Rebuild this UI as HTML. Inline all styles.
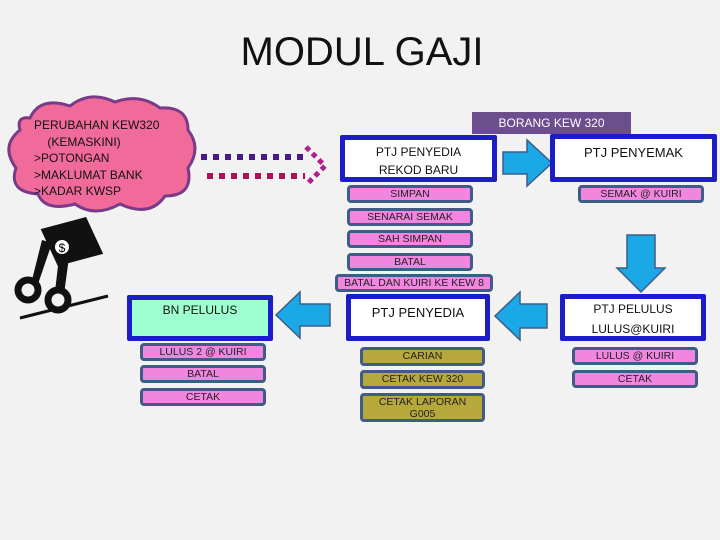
<!DOCTYPE html>
<html><head><style>
body{margin:0;width:720px;height:540px;background:#f2f2f2;position:relative;overflow:hidden;font-family:"Liberation Sans",sans-serif}
.a{position:absolute;box-sizing:border-box;text-align:center}
.t{left:0;width:724px;top:30px;font-size:40px;color:#111}
.bx{border:5px solid #1c1cc8;background:#fff;font-size:12px;color:#111;border-radius:2px}
.p{background:#f285e0;border:3px solid #3e5c86;border-radius:4px;font-size:10.5px;color:#222;line-height:12px}
.o{background:#b7a83c;border:3px solid #3e5c86;border-radius:4px;font-size:10.5px;color:#222;line-height:12px}
</style></head><body>
<div class="a t">MODUL GAJI</div>
<svg class="a" style="left:0;top:0" width="720" height="540">
<path d="M30,118 Q40,96 70,106 Q90,90 115,102 Q140,93 160,108 Q188,106 188,130 Q202,148 188,168 Q194,196 165,196 Q150,218 120,204 Q95,218 75,204 Q45,212 38,194 Q8,192 16,168 Q0,146 20,130 Q16,116 30,118Z" fill="#f06a9a" stroke="#7a3a8a" stroke-width="3"/>
<line x1="201" y1="157" x2="305" y2="157" stroke="#4a1a8a" stroke-width="6" stroke-dasharray="6,6"/>
<line x1="207" y1="176" x2="305" y2="176" stroke="#b0105a" stroke-width="6" stroke-dasharray="6,6"/>
<path d="M306,147 L325,166 L306,185" fill="none" stroke="#b0208a" stroke-width="5" stroke-dasharray="5,4"/>
<polygon points="503,152 527,152 527,140 552,163 527,186 527,174 503,174" fill="#1ba8e6" stroke="#3e5c86" stroke-width="1.5"/>
<polygon points="627,235 655,235 655,268 665,268 641,292 617,268 627,268" fill="#1ba8e6" stroke="#3e5c86" stroke-width="1.5"/>
<polygon points="330,304 300,304 300,292 276,315 300,338 300,326 330,326" fill="#1ba8e6" stroke="#3e5c86" stroke-width="1.5"/>
<polygon points="547,304 520,304 520,292 495,316 520,340 520,328 547,328" fill="#1ba8e6" stroke="#3e5c86" stroke-width="1.5"/>
<g fill="#111">
<polygon points="45,222 92,222 99,262 52,262" transform="rotate(-15 70 242)"/>
<circle cx="28" cy="290" r="10" fill="none" stroke="#111" stroke-width="7"/>
<circle cx="58" cy="300" r="10" fill="none" stroke="#111" stroke-width="7"/>
<polygon points="32,280 42,240 52,243 38,284"/>
<polygon points="55,292 60,248 70,250 64,294"/>
<line x1="20" y1="318" x2="108" y2="296" stroke="#111" stroke-width="3"/>
</g>
<circle cx="62" cy="247" r="8" fill="#fff" stroke="#111" stroke-width="2"/>
<text x="62" y="252" font-size="12" text-anchor="middle" font-family="Liberation Sans">$</text>
</svg>
<div class="a" style="left:34px;top:117px;width:160px;text-align:left;font-size:12px;line-height:16.5px;color:#111">PERUBAHAN KEW320<br>&nbsp;&nbsp;&nbsp;&nbsp;(KEMASKINI)<br>&gt;POTONGAN<br>&gt;MAKLUMAT BANK<br>&gt;KADAR KWSP</div>
<div class="a" style="left:472px;top:112px;width:159px;height:22px;background:#6c4e8e;color:#fff;font-size:12px;line-height:22px">BORANG KEW 320</div>
<div class="a bx" style="left:340px;top:135px;width:157px;height:47px;line-height:18px;padding-top:3px">PTJ PENYEDIA<br>REKOD BARU</div>
<div class="a bx" style="left:550px;top:134px;width:167px;height:48px;font-size:13px;padding-top:6px">PTJ PENYEMAK</div>
<div class="a p" style="left:347px;top:185px;width:126px;height:18px">SIMPAN</div>
<div class="a p" style="left:578px;top:185px;width:126px;height:18px">SEMAK @ KUIRI</div>
<div class="a p" style="left:347px;top:208px;width:126px;height:18px">SENARAI SEMAK</div>
<div class="a p" style="left:347px;top:230px;width:126px;height:18px">SAH SIMPAN</div>
<div class="a p" style="left:347px;top:253px;width:126px;height:18px">BATAL</div>
<div class="a p" style="left:335px;top:274px;width:158px;height:18px">BATAL DAN KUIRI KE KEW 8</div>
<div class="a bx" style="left:127px;top:295px;width:146px;height:46px;background:#9effd0;padding-top:3px">BN PELULUS</div>
<div class="a bx" style="left:346px;top:294px;width:144px;height:47px;font-size:13px;padding-top:6px">PTJ PENYEDIA</div>
<div class="a bx" style="left:560px;top:294px;width:146px;height:47px;line-height:20px;padding-top:0">PTJ PELULUS<br>LULUS@KUIRI</div>
<div class="a p" style="left:140px;top:343px;width:126px;height:18px">LULUS 2 @ KUIRI</div>
<div class="a p" style="left:140px;top:365px;width:126px;height:18px">BATAL</div>
<div class="a p" style="left:140px;top:388px;width:126px;height:18px">CETAK</div>
<div class="a o" style="left:360px;top:347px;width:125px;height:19px">CARIAN</div>
<div class="a o" style="left:360px;top:370px;width:125px;height:19px">CETAK KEW 320</div>
<div class="a o" style="left:360px;top:393px;width:125px;height:29px">CETAK LAPORAN<br>G005</div>
<div class="a p" style="left:572px;top:347px;width:126px;height:18px">LULUS @ KUIRI</div>
<div class="a p" style="left:572px;top:370px;width:126px;height:18px">CETAK</div>
</body></html>
